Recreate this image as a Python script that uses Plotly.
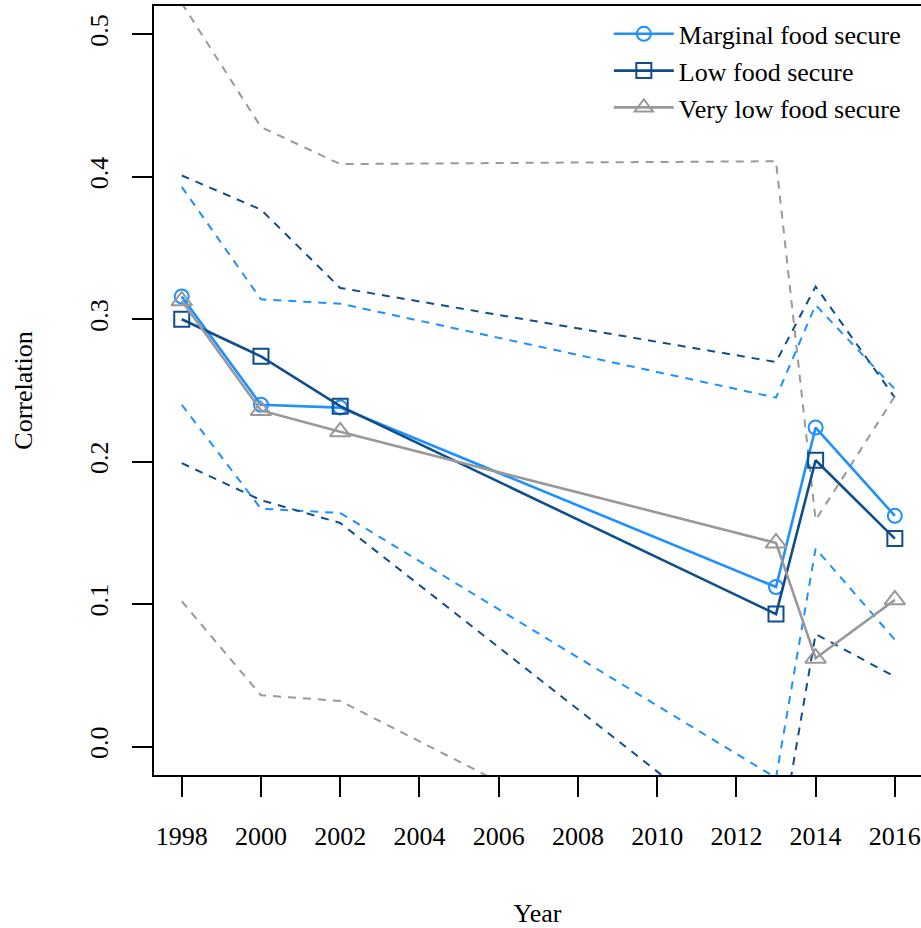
import plotly.graph_objects as go

years = [1998, 2000, 2002, 2013, 2014, 2016]

marg = [0.316, 0.240, 0.238, 0.112, 0.224, 0.162]
marg_hi = [0.393, 0.314, 0.311, 0.245, 0.310, 0.251]
marg_lo = [0.240, 0.167, 0.164, -0.022, 0.139, 0.075]

low = [0.300, 0.274, 0.239, 0.093, 0.201, 0.146]
low_hi = [0.401, 0.377, 0.322, 0.270, 0.323, 0.245]
low_lo = [0.199, 0.173, 0.157, -0.083, 0.079, 0.049]

vlow = [0.313, 0.236, 0.221, 0.143, 0.062, 0.103]
vlow_hi = [0.522, 0.435, 0.409, 0.411, 0.159, 0.246]
vlow_lo = [0.102, 0.036, 0.032, -0.124, -0.040, -0.040]

x_ticks = [1998, 2000, 2002, 2004, 2006, 2008, 2010, 2012, 2014, 2016]
y_ticks = [0.0, 0.1, 0.2, 0.3, 0.4, 0.5]
y_ticktext = ["0.0", "0.1", "0.2", "0.3", "0.4", "0.5"]

names = ["Marginal food secure", "Low food secure", "Very low food secure"]
colors = ["#1E90FF", "#104E8B", "#999999"]
symbols = ["circle-open", "square-open", "triangle-up-open"]
msizes = [14, 15, 18]

FONT = "Liberation Serif"
tfont = dict(family=FONT, size=26, color="black")

fig = go.Figure()

series = [(marg, marg_hi, marg_lo), (low, low_hi, low_lo), (vlow, vlow_hi, vlow_lo)]

for (mid, hi, lo), c in zip(series, colors):
    for band in (hi, lo):
        fig.add_trace(go.Scatter(
            x=years, y=band, mode="lines",
            line=dict(color=c, width=2, dash="8px,7px"),
            showlegend=False, hoverinfo="skip"))

for (mid, hi, lo), c, s, ms, n in zip(series, colors, symbols, msizes, names):
    fig.add_trace(go.Scatter(
        x=years, y=mid, mode="lines+markers", name=n,
        line=dict(color=c, width=2.6),
        marker=dict(symbol=s, size=ms, color=c, line=dict(color=c, width=2))))

fig.update_layout(
    width=921, height=928,
    margin=dict(l=154, r=0, t=6, b=153, autoexpand=False),
    paper_bgcolor="white", plot_bgcolor="white",
    font=tfont,
    showlegend=True,
    legend=dict(x=0.593, xanchor="left",
                y=0.9943, yanchor="top",
                bgcolor="rgba(0,0,0,0)", borderwidth=0,
                font=tfont,
                itemwidth=60, tracegroupgap=0),
)

fig.update_xaxes(
    range=[1997.3, 2016.66], tickvals=x_ticks, tickangle=0,
    tickfont=tfont, ticklabeloverflow="allow",
    showgrid=False, zeroline=False,
    showline=True, linecolor="black", linewidth=2, mirror=True,
    ticks="outside", ticklen=20, tickwidth=2, tickcolor="black",
    ticklabelstandoff=17,
    title=dict(text="Year", standoff=56, font=tfont),
)
fig.update_yaxes(
    range=[-0.02, 0.52], tickvals=y_ticks, ticktext=y_ticktext,
    tickangle=-90, tickfont=tfont,
    showgrid=False, zeroline=False,
    showline=True, linecolor="black", linewidth=2, mirror=False,
    ticks="outside", ticklen=20, tickwidth=2, tickcolor="black",
    ticklabelstandoff=14,
    title=dict(text="Correlation", standoff=44, font=tfont),
)

fig.write_html("out.html")
